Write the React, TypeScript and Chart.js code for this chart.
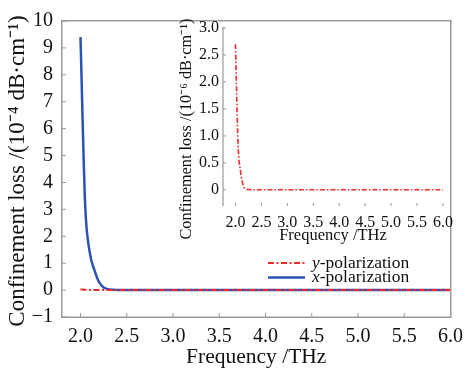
import React, { useEffect, useRef } from "react";
import { Chart, registerables } from "chart.js";

Chart.register(...registerables);

// Frequency samples (THz)
const freq = [2.0, 2.05, 2.1, 2.15, 2.2, 2.25, 2.3, 2.35, 2.4, 2.5, 2.75, 3.0, 3.5, 4.0, 4.5, 5.0, 5.5, 6.0];
// x-polarization confinement loss (10^-4 dB/cm)
const xPolLoss = [9.4, 3.2, 1.4, 0.75, 0.3, 0.1, 0.03, 0.012, 0.006, 0.004, 0.003, 0.002, 0.001, 0.001, 0.001, 0.001, 0.001, 0.001];
// y-polarization confinement loss (10^-6 dB/cm)
const yPolLoss = [2.7, 0.85, 0.33, 0.08, 0.012, 0.005, 0.003, 0.002, 0.001, 0.001, 0.001, 0.001, 0.001, 0.001, 0.001, 0.001, 0.001, 0.001];

const mainXTicks = [2.0, 2.5, 3.0, 3.5, 4.0, 4.5, 5.0, 5.5, 6.0];
const mainYTicks = [-1, 0, 1, 2, 3, 4, 5, 6, 7, 8, 9, 10];
const insetXTicks = [2.0, 2.5, 3.0, 3.5, 4.0, 4.5, 5.0, 5.5, 6.0];
const insetYTicks = [0, 0.5, 1.0, 1.5, 2.0, 2.5, 3.0];

const seriesNames = ["y-polarization", "x-polarization"];
const xTitle = "Frequency /THz";
const mainYTitle = "Confinement loss /(10\u207B\u2074 dB\u00B7cm\u207B\u00B9)";
const insetYTitle = "Confinement loss /(10\u207B\u2076 dB\u00B7cm\u207B\u00B9)";

const RED = "#f02a2a";
const BLUE = "#2c52b4";
const FRAME = "#9a9a9a";
const TEXT = "#111111";
const FONT = "'Liberation Serif', serif";
const DASH_DOT = [6, 2.5, 2, 2.5];

const toPoints = (ys: number[], scale = 1) => freq.map((f, i) => ({ x: f, y: ys[i] * scale }));
const fixedTicks = (values: number[]) => (scale: any) => {
  scale.ticks = values.map((v) => ({ value: v }));
};
const fmtTick = (v: any) => {
  const n = Number(v);
  if (n < 0) return "\u2212" + Math.abs(n).toString();
  return Number.isInteger(n) ? n.toString() : n.toFixed(1);
};
const fmtDec = (v: any) => Number(v).toFixed(1).replace(/^0\.0$/, "0");

const drawVerticalTitle = (ctx: CanvasRenderingContext2D, text: string, x: number, y: number, size: number) => {
  ctx.save();
  ctx.translate(x, y);
  ctx.rotate(-Math.PI / 2);
  ctx.font = `${size}px ${FONT}`;
  ctx.fillStyle = TEXT;
  ctx.textAlign = "center";
  ctx.textBaseline = "middle";
  ctx.fillText(text, 0, 0);
  ctx.restore();
};

// Frame, inward tick marks, y title and legend for the main plot
const mainDecor = {
  id: "mainDecor",
  afterDraw(chart: any) {
    const { ctx, chartArea: a, scales } = chart;
    ctx.save();
    ctx.fillStyle = FRAME;
    const w = a.right - a.left;
    const h = a.bottom - a.top;
    ctx.fillRect(a.left - 1, a.top - 1, w + 2, 1.5);
    ctx.fillRect(a.left - 1, a.bottom - 0.5, w + 2, 1.5);
    ctx.fillRect(a.left - 1, a.top - 1, 1.5, h + 2);
    ctx.fillRect(a.right - 0.5, a.top - 1, 1.5, h + 2);
    scales.x.ticks.forEach((t: any) => {
      const px = scales.x.getPixelForValue(t.value);
      ctx.fillRect(px - 0.5, a.bottom - 4, 1, 4);
    });
    scales.y.ticks.forEach((t: any) => {
      const py = scales.y.getPixelForValue(t.value);
      ctx.fillRect(a.left, py - 0.5, 4, 1);
    });

    drawVerticalTitle(ctx, mainYTitle, 18, 171, 23);

    // legend
    const items = [
      { color: RED, dash: DASH_DOT, width: 2, name: seriesNames[0] },
      { color: BLUE, dash: [] as number[], width: 2.5, name: seriesNames[1] },
    ];
    const lx = 268;
    const lineLen = 37;
    items.forEach((it, i) => {
      const y = 263 + i * 14.5;
      ctx.strokeStyle = it.color;
      ctx.lineWidth = it.width;
      ctx.setLineDash(it.dash);
      ctx.beginPath();
      ctx.moveTo(lx, y);
      ctx.lineTo(lx + lineLen, y);
      ctx.stroke();
      ctx.setLineDash([]);
      ctx.fillStyle = TEXT;
      ctx.textBaseline = "middle";
      ctx.textAlign = "left";
      const first = it.name.charAt(0);
      const rest = it.name.slice(1);
      ctx.font = `italic 17.5px ${FONT}`;
      const tx = lx + lineLen + 7;
      ctx.fillText(first, tx, y);
      const fw = ctx.measureText(first).width;
      ctx.font = `17.5px ${FONT}`;
      ctx.fillText(rest, tx + fw, y);
    });
    ctx.restore();
  },
};

const insetDecor = {
  id: "insetDecor",
  afterDraw(chart: any) {
    const { ctx, chartArea: a, scales } = chart;
    ctx.save();
    ctx.fillStyle = FRAME;
    const top = scales.y.getPixelForValue(3.0) - 1;
    ctx.fillRect(a.left - 0.6, top, 1.2, a.bottom - top);
    scales.x.ticks.forEach((t: any) => {
      const px = scales.x.getPixelForValue(t.value);
      ctx.fillRect(px - 0.5, a.bottom - 3, 1, 3);
    });
    scales.y.ticks.forEach((t: any) => {
      const py = scales.y.getPixelForValue(t.value);
      ctx.fillRect(a.left, py - 0.5, 3, 1);
    });

    drawVerticalTitle(ctx, insetYTitle, 27, 129, 16.3);
    ctx.restore();
  },
};

export default function App() {
  const mainRef = useRef<HTMLCanvasElement>(null);
  const insetRef = useRef<HTMLCanvasElement>(null);

  useEffect(() => {
    const main = new Chart(mainRef.current!, {
      type: "line",
      data: {
        datasets: [
          {
            label: seriesNames[1],
            data: toPoints(xPolLoss),
            borderColor: BLUE,
            borderWidth: 2.5,
            pointRadius: 0,
            cubicInterpolationMode: "monotone",
            order: 2,
          },
          {
            label: seriesNames[0],
            // 10^-6 -> 10^-4 dB/cm
            data: toPoints(yPolLoss, 0.01),
            borderColor: RED,
            borderWidth: 2,
            borderDash: DASH_DOT,
            pointRadius: 0,
            cubicInterpolationMode: "monotone",
            order: 1,
          },
        ],
      },
      options: {
        animation: false,
        responsive: false,
        devicePixelRatio: 1,
        layout: { padding: { top: 13, right: 15, left: 0, bottom: 0 } },
        plugins: { legend: { display: false }, tooltip: { enabled: false } },
        scales: {
          x: {
            type: "linear",
            min: 1.8,
            max: 6.0,
            afterBuildTicks: fixedTicks(mainXTicks),
            afterFit: (s: any) => { s.height = 54; },
            grid: { display: false, drawTicks: false },
            border: { display: false },
            ticks: { font: { family: FONT, size: 20 }, color: TEXT, padding: 8, maxRotation: 0, autoSkip: false, callback: fmtDec },
            title: { display: true, text: xTitle, font: { family: FONT, size: 21.5 }, color: TEXT, padding: { top: 0, bottom: 1 } },
          },
          y: {
            type: "linear",
            min: -1,
            max: 10,
            afterBuildTicks: fixedTicks(mainYTicks),
            afterFit: (s: any) => { s.width = 62; },
            grid: { display: false, drawTicks: false },
            border: { display: false },
            ticks: { font: { family: FONT, size: 20 }, color: TEXT, padding: 9, autoSkip: false, callback: fmtTick },
            title: { display: false },
          },
        },
      },
      plugins: [mainDecor],
    });

    const inset = new Chart(insetRef.current!, {
      type: "line",
      data: {
        datasets: [
          {
            label: seriesNames[0],
            data: toPoints(yPolLoss),
            borderColor: RED,
            borderWidth: 1.6,
            borderDash: [5, 2, 1.5, 2],
            pointRadius: 0,
            cubicInterpolationMode: "monotone",
          },
        ],
      },
      options: {
        animation: false,
        responsive: false,
        devicePixelRatio: 1,
        layout: { padding: { top: 28, right: 13, left: 0, bottom: 0 } },
        plugins: { legend: { display: false }, tooltip: { enabled: false } },
        scales: {
          x: {
            type: "linear",
            min: 1.76,
            max: 6.0,
            afterBuildTicks: fixedTicks(insetXTicks),
            afterFit: (s: any) => { s.height = 42; },
            grid: { display: false, drawTicks: false },
            border: { display: false },
            ticks: { font: { family: FONT, size: 16 }, color: TEXT, padding: 7, maxRotation: 0, autoSkip: false, callback: fmtDec },
            title: { display: true, text: xTitle, font: { family: FONT, size: 16.5 }, color: TEXT, padding: { top: 0, bottom: 2 } },
          },
          y: {
            type: "linear",
            min: -0.3,
            max: 3.0,
            afterBuildTicks: fixedTicks(insetYTicks),
            afterFit: (s: any) => { s.width = 63; },
            grid: { display: false, drawTicks: false },
            border: { display: false },
            ticks: { font: { family: FONT, size: 16 }, color: TEXT, padding: 4, autoSkip: false, callback: fmtDec },
            title: { display: false },
          },
        },
      },
      plugins: [insetDecor],
    });

    return () => {
      main.destroy();
      inset.destroy();
    };
  }, []);

  return (
    <div style={{ position: "absolute", left: 0, top: 0, width: 471, height: 371, background: "#fff" }}>
      <canvas ref={mainRef} width={471} height={371} style={{ position: "absolute", left: 0, top: 0 }} />
      <canvas ref={insetRef} width={300} height={248} style={{ position: "absolute", left: 160, top: 0 }} />
    </div>
  );
}
